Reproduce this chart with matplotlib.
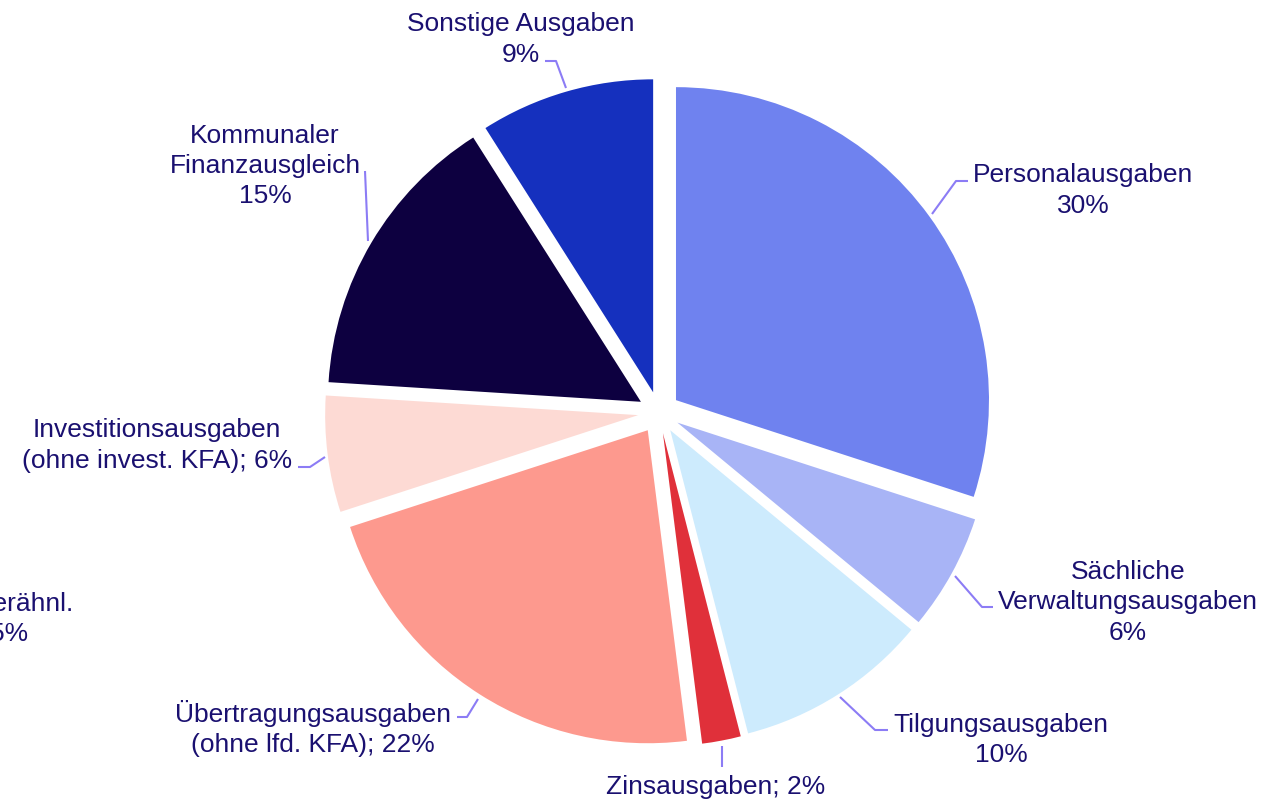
import matplotlib
matplotlib.use("Agg")
import matplotlib.pyplot as plt

# Data
categories = ["Personalausgaben", "Sächliche Verwaltungsausgaben", "Tilgungsausgaben",
              "Zinsausgaben", "Übertragungsausgaben (ohne lfd. KFA)",
              "Investitionsausgaben (ohne invest. KFA)", "Kommunaler Finanzausgleich",
              "Sonstige Ausgaben"]
values = [30, 6, 10, 2, 22, 6, 15, 9]
labels = ["Personalausgaben\n30%", "Sächliche\nVerwaltungsausgaben\n6%",
          "Tilgungsausgaben\n10%", "Zinsausgaben; 2%",
          "Übertragungsausgaben\n(ohne lfd. KFA); 22%",
          "Investitionsausgaben\n(ohne invest. KFA); 6%",
          "Kommunaler\nFinanzausgleich\n15%", "Sonstige Ausgaben\n9%"]
colors = ["#6F82EF", "#A8B4F6", "#CDEBFD", "#E0303A", "#FD998E", "#FDDAD4",
          "#0D0040", "#1530BE"]

# Layout (pixel coordinates, y measured from top)
W, H = 1281, 803
center_px = (659, 413.5)
radius_px = 313
explode_px = 21
label_pos = [(1083, 190.5), (1128, 602.5), (1001, 740), (716, 787), (313, 728.5),
             (157, 445.5), (265, 166), (521, 39.5)]
leaders = [
    [(968, 182), (956, 182), (932, 215)],
    [(993, 608), (982, 608), (955, 577)],
    [(888, 731), (875, 731), (840, 698)],
    [(722, 768), (722, 747)],
    [(457, 718), (467, 718), (478, 700)],
    [(298, 468), (310, 468), (325, 458)],
    [(365, 172), (368, 242)],
    [(545, 62), (556, 62), (566, 89)],
]

text_color = "#1A1070"
line_color = "#8C7CF5"
font = ["Liberation Sans", "DejaVu Sans"]

fig = plt.figure(figsize=(W / 100, H / 100), dpi=100)
ax = fig.add_axes([0, 0, 1, 1])
ax.pie(values, colors=colors, startangle=90, counterclock=False,
       explode=[explode_px] * len(values), radius=radius_px,
       center=(center_px[0], H - center_px[1]),
       wedgeprops=dict(linewidth=0))
ax.set_xlim(0, W)
ax.set_ylim(0, H)
ax.set_aspect("equal")
ax.axis("off")

for lab, (x, y) in zip(labels, label_pos):
    ax.text(x, H - y, lab, ha="center", va="center", multialignment="center",
            fontsize=19, color=text_color, family=font, linespacing=1.34)

for pts in leaders:
    xs = [p[0] for p in pts]
    ys = [H - p[1] for p in pts]
    ax.plot(xs, ys, color=line_color, lw=1.5, solid_capstyle="butt")

# label cut off at the left edge of the picture (as in the reference)
ax.text(73, H - 604, "u. Verähnl.", ha="right", va="center",
        fontsize=19, color=text_color, family=font)
ax.text(28, H - 634, "0,5%", ha="right", va="center",
        fontsize=19, color=text_color, family=font)

fig.savefig("out.png", dpi=100)
